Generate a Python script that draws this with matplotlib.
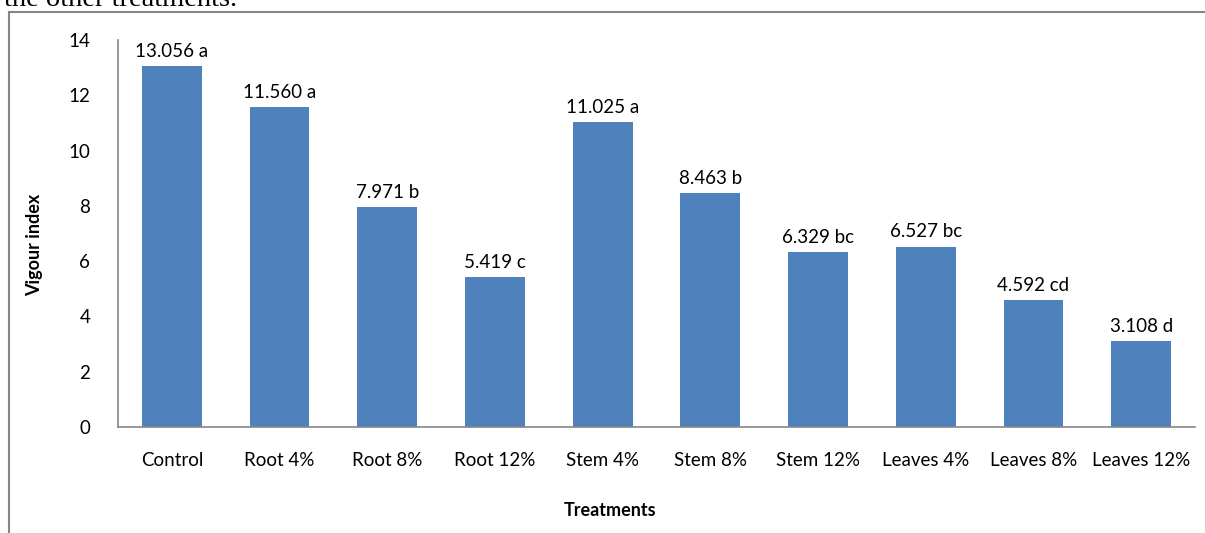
import matplotlib.pyplot as plt
from matplotlib.patches import Rectangle

# ======================
# DATA
# ======================
treatments = ['Control', 'Root 4%', 'Root 8%', 'Root 12%', 'Stem 4%',
              'Stem 8%', 'Stem 12%', 'Leaves 4%', 'Leaves 8%', 'Leaves 12%']
vigour = [13.056, 11.560, 7.971, 5.419, 11.025, 8.463, 6.329, 6.527, 4.592, 3.108]
letters = ['a', 'a', 'b', 'c', 'a', 'b', 'bc', 'bc', 'cd', 'd']
y_ticks = [0, 2, 4, 6, 8, 10, 12, 14]

plt.rcParams['font.family'] = ['Lato', 'DejaVu Sans']

# ======================
# FIGURE
# ======================
fig = plt.figure(figsize=(12.05, 5.33), dpi=100)

# chart border (runs past the right/bottom edges of the crop)
fig.patches.append(Rectangle((9 / 1205, -0.05), 1.2, 1 - 12 / 533 + 0.05,
                             transform=fig.transFigure, fill=False,
                             edgecolor='#868686', linewidth=1.5))

# cut-off caption text above the chart
fig.text(0.003, 1 - 6 / 533, 'the other treatments.', family='Liberation Serif',
         fontsize=20.5, va='baseline', ha='left', color='black')

ax = fig.add_axes([118 / 1205, 106 / 533, 1077 / 1205, 387 / 533])
x = range(len(treatments))
ax.bar(x, vigour, width=0.556, color='#4F81BD', zorder=2)

for i, (v, l) in enumerate(zip(vigour, letters)):
    ax.text(i, v + 0.22, f'{v:.3f} {l}', ha='center', va='bottom', fontsize=13.5)

ax.set_xlim(-0.5, len(treatments) - 0.5)
ax.set_ylim(0, 14)
ax.set_yticks(y_ticks)
ax.set_xticks(list(x))
ax.set_xticklabels(treatments)
ax.tick_params(axis='both', length=0, labelsize=13.5)
ax.tick_params(axis='x', pad=18)
ax.tick_params(axis='y', pad=20)

for side in ['top', 'right']:
    ax.spines[side].set_visible(False)
for side in ['left', 'bottom']:
    ax.spines[side].set_color('#868686')
    ax.spines[side].set_linewidth(1.2)

fig.text(610 / 1205, 1 - 511 / 533, 'Treatments', ha='center', va='center',
         fontsize=13, fontweight='bold')
fig.text(35 / 1205, 1 - 245 / 533, 'Vigour index', ha='center', va='center',
         fontsize=13, fontweight='bold', rotation=90)

plt.savefig('out.png', dpi=100)
